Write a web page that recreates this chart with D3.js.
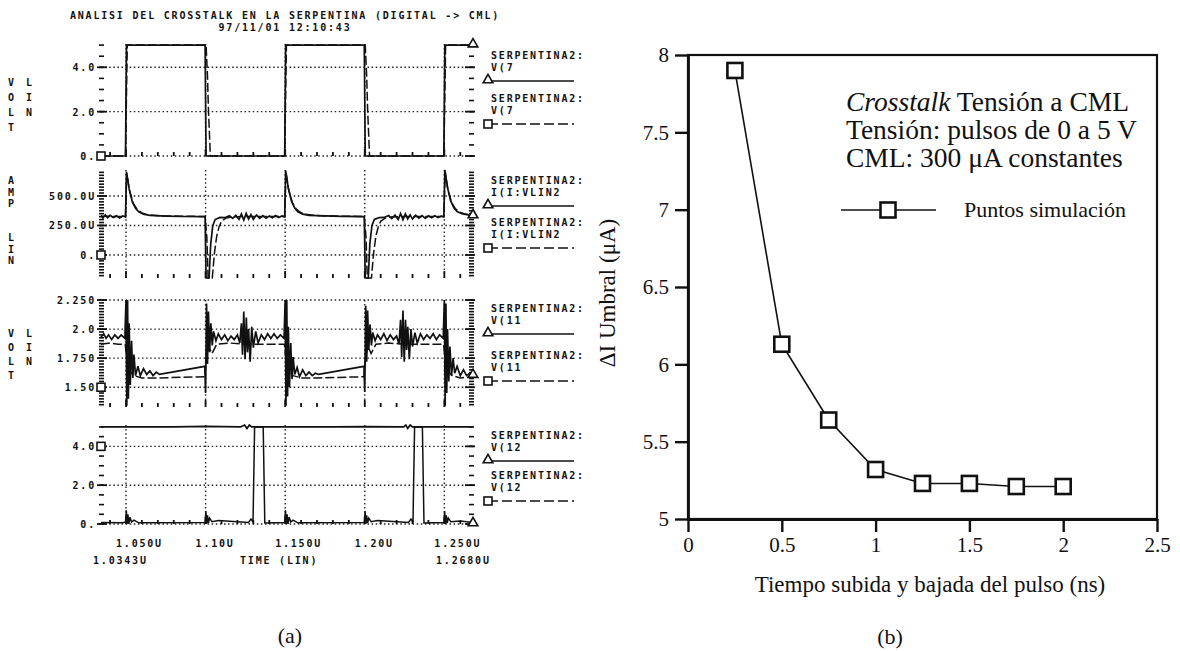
<!DOCTYPE html>
<html>
<head>
<meta charset="utf-8">
<script src="https://cdn.jsdelivr.net/npm/d3@7"></script>
<style>
  body { margin: 0; background: #fff; }
  .mono { font-family: "DejaVu Sans Mono", monospace; font-weight: bold; font-size: 10px; letter-spacing: 1.8px; fill: #111; }
  .serif { font-family: "Liberation Serif", "Times New Roman", serif; fill: #111; }
</style>
</head>
<body>
<svg id="chart" width="1180" height="651"></svg>
<script>
// ---- (a) PSpice traces, time in us ----
const timeGrid = [1.05, 1.10, 1.15, 1.20, 1.25];
const timeLabels = ['1.050U', '1.10U', '1.150U', '1.20U', '1.250U'];

// V(7)
const v7Solid = [[1.0343,0],[1.0497,0],[1.0503,5],[1.0997,5],[1.1003,0],[1.1497,0],[1.1503,5],[1.1997,5],[1.2003,0],[1.2497,0],[1.2503,5],[1.268,5]];
const v7Dash = [[1.0343,0],[1.0497,0],[1.0508,5],[1.1003,5],[1.1012,3.6],[1.1018,2.1],[1.1030,0],[1.1497,0],[1.1508,5],[1.2003,5],[1.2012,3.6],[1.2018,2.1],[1.2030,0],[1.2497,0],[1.2508,5],[1.268,5]];

// I(I:VLIN2), uA
const iSolid = [[1.0343,335],[1.0355,312],[1.037,340],[1.0385,316],[1.040,336],[1.042,318],[1.044,332],[1.046,314],[1.048,330],[1.0497,322],
  [1.0503,705],[1.052,560],[1.054,450],[1.056,395],[1.058,365],[1.061,345],[1.065,335],[1.075,330],[1.085,326],[1.0997,325],
  [1.1003,-250],[1.1022,-250],[1.1032,90],[1.1045,245],[1.106,300],[1.109,318],[1.112,316],[1.115,332],[1.117,310],[1.119,336],[1.121,302],[1.1225,348],[1.124,296],[1.1255,352],[1.127,304],[1.1285,342],[1.130,302],[1.132,338],[1.134,310],[1.136,333],[1.138,312],[1.140,330],[1.142,315],[1.144,334],[1.146,317],[1.148,331],[1.1497,323],
  [1.1503,715],[1.152,565],[1.154,455],[1.156,398],[1.158,366],[1.161,346],[1.165,336],[1.175,331],[1.185,327],[1.1997,325],
  [1.2003,-250],[1.2022,-250],[1.2032,95],[1.2045,248],[1.206,302],[1.209,316],[1.212,318],[1.215,334],[1.217,308],[1.219,338],[1.221,300],[1.2225,350],[1.224,298],[1.2255,348],[1.227,306],[1.2285,340],[1.230,304],[1.232,336],[1.234,312],[1.236,334],[1.238,310],[1.240,332],[1.242,316],[1.244,333],[1.246,318],[1.248,330],[1.2497,324],
  [1.2503,720],[1.252,570],[1.254,458],[1.256,400],[1.258,368],[1.261,350],[1.265,340],[1.268,336]];
const iDash = [[1.0343,328],[1.0497,326],[1.0505,690],[1.0522,545],[1.0545,440],[1.057,385],[1.060,356],[1.064,340],[1.072,331],[1.0997,326],
  [1.1008,150],[1.1016,-250],[1.1042,-250],[1.1056,20],[1.107,160],[1.1085,240],[1.110,285],[1.1125,310],[1.116,322],[1.125,326],[1.1497,325],
  [1.1505,700],[1.1522,550],[1.1545,444],[1.157,388],[1.160,358],[1.164,342],[1.172,332],[1.1997,326],
  [1.2008,150],[1.2016,-250],[1.2042,-250],[1.2056,20],[1.207,160],[1.2085,240],[1.210,285],[1.2125,310],[1.216,322],[1.225,326],[1.2497,325],
  [1.2505,705],[1.2522,555],[1.2545,446],[1.257,390],[1.260,360],[1.264,344],[1.268,338]];

// V(11)
const v11Solid = [[1.0343,1.93],[1.036,1.96],[1.0375,1.92],[1.039,1.95],[1.041,1.91],[1.043,1.95],[1.045,1.92],[1.047,1.95],[1.0493,1.92],
  [1.0500,2.26],[1.0505,1.34],[1.0510,2.26],[1.0515,1.40],[1.0520,2.05],[1.0527,1.52],[1.0535,1.90],[1.0543,1.58],[1.0550,1.78],[1.0560,1.60],[1.0575,1.68],[1.0590,1.60],[1.0610,1.66],[1.0630,1.61],[1.0650,1.64],[1.0670,1.60],[1.0690,1.63],[1.0710,1.61],[1.0995,1.68],
  [1.1000,1.45],[1.1006,2.22],[1.1012,1.70],[1.1018,2.15],[1.1025,1.80],[1.1033,2.05],[1.1042,1.86],[1.1050,1.98],[1.1065,1.90],[1.1080,1.96],[1.1100,1.91],[1.1120,1.95],[1.1140,1.90],[1.1160,1.94],[1.1180,1.91],[1.1200,1.95],[1.1215,1.88],[1.1225,2.05],[1.1232,1.78],[1.1240,2.15],[1.1248,1.74],[1.1256,2.10],[1.1263,1.80],[1.1270,2.00],[1.1280,1.72],[1.1290,2.02],[1.1300,1.84],[1.1315,1.98],[1.1330,1.88],[1.1350,1.95],[1.1370,1.91],[1.1390,1.96],[1.1410,1.92],[1.1430,1.96],[1.1450,1.92],[1.1470,1.95],[1.1493,1.92],
  [1.1500,2.26],[1.1505,1.34],[1.1510,2.26],[1.1515,1.42],[1.1520,2.02],[1.1527,1.50],[1.1535,1.88],[1.1543,1.57],[1.1550,1.76],[1.1560,1.61],[1.1575,1.67],[1.1590,1.59],[1.1610,1.65],[1.1630,1.60],[1.1650,1.63],[1.1670,1.60],[1.1690,1.62],[1.1710,1.61],[1.1995,1.68],
  [1.2000,1.46],[1.2006,2.20],[1.2012,1.72],[1.2018,2.16],[1.2025,1.82],[1.2033,2.04],[1.2042,1.86],[1.2050,1.97],[1.2065,1.90],[1.2080,1.95],[1.2100,1.91],[1.2120,1.96],[1.2140,1.90],[1.2160,1.95],[1.2180,1.91],[1.2200,1.94],[1.2215,1.87],[1.2225,2.08],[1.2232,1.76],[1.2240,2.16],[1.2248,1.72],[1.2256,2.08],[1.2263,1.82],[1.2270,2.02],[1.2280,1.74],[1.2290,2.00],[1.2300,1.85],[1.2315,1.97],[1.2330,1.88],[1.2350,1.96],[1.2370,1.91],[1.2390,1.95],[1.2410,1.92],[1.2430,1.96],[1.2450,1.91],[1.2470,1.95],[1.2493,1.92],
  [1.2500,2.26],[1.2505,1.34],[1.2510,2.22],[1.2515,1.45],[1.2520,2.00],[1.2528,1.55],[1.2535,1.85],[1.2545,1.60],[1.2555,1.75],[1.2565,1.62],[1.2580,1.68],[1.2600,1.60],[1.2620,1.65],[1.2640,1.60],[1.2660,1.62],[1.2680,1.60]];
const v11Dash = [[1.0343,1.87],[1.040,1.88],[1.045,1.87],[1.0495,1.87],[1.0505,1.74],[1.052,1.64],[1.055,1.60],[1.060,1.58],[1.070,1.58],[1.0995,1.59],
  [1.1005,1.76],[1.102,1.85],[1.104,1.79],[1.107,1.87],[1.115,1.88],[1.125,1.87],[1.135,1.87],[1.1495,1.87],
  [1.1505,1.74],[1.152,1.64],[1.155,1.60],[1.160,1.58],[1.170,1.58],[1.1995,1.59],
  [1.2005,1.76],[1.202,1.85],[1.204,1.79],[1.207,1.87],[1.215,1.88],[1.225,1.87],[1.235,1.87],[1.2495,1.87],
  [1.2505,1.74],[1.252,1.64],[1.255,1.60],[1.260,1.58],[1.268,1.59]];

// V(12)
const v12Top = [[1.0343,5.0],[1.08,5.0],[1.1,5.03],[1.122,5.0],[1.1245,5.1],[1.126,4.92],[1.1275,5.1],[1.129,5.0],[1.18,5.0],[1.2,5.02],[1.2245,5.0],[1.2258,5.1],[1.227,4.92],[1.2285,5.1],[1.23,5.0],[1.268,5.0]];
const v12Bot = [[1.0343,0.08],[1.048,0.06],[1.0497,0.1],[1.0502,0.7],[1.0507,-0.1],[1.0512,0.5],[1.0518,0.0],[1.0525,0.35],[1.0535,0.1],[1.055,0.2],[1.058,0.06],[1.0997,0.08],
  [1.1002,0.65],[1.1007,-0.1],[1.1012,0.45],[1.1018,0.05],[1.1025,0.3],[1.104,0.12],[1.108,0.18],[1.127,0.08],[1.1285,0.25],[1.1298,0.1],[1.1308,5.0],[1.1362,5.0],[1.1372,0.05],[1.1497,0.08],
  [1.1502,0.7],[1.1507,-0.1],[1.1512,0.5],[1.1518,0.0],[1.1525,0.35],[1.1535,0.1],[1.155,0.2],[1.158,0.06],[1.1997,0.08],
  [1.2002,0.65],[1.2007,-0.1],[1.2012,0.45],[1.2018,0.05],[1.2025,0.3],[1.204,0.12],[1.208,0.18],[1.2275,0.08],[1.229,0.25],[1.2303,0.1],[1.2313,5.0],[1.2362,5.0],[1.2372,0.05],[1.2497,0.08],
  [1.2502,0.65],[1.2507,-0.1],[1.2512,0.45],[1.2518,0.05],[1.2525,0.3],[1.254,0.12],[1.26,0.16],[1.268,0.08]];

// left axis labels per panel
const p1Ticks = [4, 2, 0], p1Labels = ['4.0', '2.0', '0.'];
const p2Ticks = [500, 250, 0], p2Labels = ['500.0U', '250.0U', '0.'];
const p3Ticks = [2.25, 2.0, 1.75, 1.5], p3Labels = ['2.250', '2.0', '1.750', '1.50'];
const p4Ticks = [4, 2, 0], p4Labels = ['4.0', '2.0', '0.'];
const traceNames = ['V(7', 'I(I:VLIN2', 'V(11', 'V(12'];
const squareAt = [0, 0, 1.5, 4.0];   // trace 2 symbol on left edge
const triangleAt = [5, 330, 1.6, 0]; // trace 1 symbol on right edge

// ---- (b) crosstalk threshold ----
const riseTime = [0.25, 0.5, 0.75, 1, 1.25, 1.5, 1.75, 2];
const deltaI = [7.90, 6.13, 5.64, 5.32, 5.23, 5.23, 5.21, 5.21];
const xTicksB = [0, 0.5, 1, 1.5, 2, 2.5], xLabelsB = ['0', '0.5', '1', '1.5', '2', '2.5'];
const yTicksB = [5, 5.5, 6, 6.5, 7, 7.5, 8], yLabelsB = ['5', '5.5', '6', '6.5', '7', '7.5', '8'];

const svg = d3.select('#chart');
svg.append('rect').attr('width', 1180).attr('height', 651).attr('fill', '#fff');

// ========== left: PSpice plot ==========
const x = d3.scaleLinear().domain([1.0343, 1.268]).range([101, 473]);

const panels = [
  { y: d3.scaleLinear().domain([0, 5.05]).range([156, 44]).clamp(true), ticks: p1Ticks, labels: p1Labels, minor: d3.range(0, 5.01, 0.5), traces: [v7Solid, v7Dash], ylab: [['V','O','L','T'], ['L','I','N']], ly: 82, lstep: 15, leg: [55, 98] },
  { y: d3.scaleLinear().domain([-195, 720]).range([278, 170]).clamp(true), ticks: p2Ticks, labels: p2Labels, minor: d3.range(-175, 701, 25), traces: [iSolid, iDash], ylab: [['A','M','P'], []], ly: 180, lstep: 11.5, leg: [180, 222], ylab2: [['L','I','N'], 237] },
  { y: d3.scaleLinear().domain([1.33, 2.25]).range([407, 300]).clamp(true), ticks: p3Ticks, labels: p3Labels, minor: d3.range(1.35, 2.251, 0.025), traces: [v11Solid, v11Dash], ylab: [['V','O','L','T'], ['L','I','N']], ly: 333, lstep: 14, leg: [308, 355] },
  { y: d3.scaleLinear().domain([0, 5.1]).range([524, 425]).clamp(true), ticks: p4Ticks, labels: p4Labels, minor: d3.range(0, 5.01, 0.5), traces: [v12Top, v12Bot], ylab: [[], []], ly: 0, lstep: 0, leg: [435, 475] }
];

const dotted = '1.5,2.6';

panels.forEach((p, i) => {
  const g = svg.append('g');
  const [bot, top] = p.y.range();

  // dotted grid
  timeGrid.forEach(t => {
    g.append('line').attr('x1', x(t)).attr('x2', x(t)).attr('y1', top).attr('y2', bot)
      .attr('stroke', '#222').attr('stroke-width', 1.4).attr('stroke-dasharray', dotted);
  });
  p.ticks.forEach(v => {
    g.append('line').attr('x1', 101).attr('x2', 473).attr('y1', p.y(v)).attr('y2', p.y(v))
      .attr('stroke', '#222').attr('stroke-width', 1.4).attr('stroke-dasharray', dotted);
  });

  // tick columns left / right
  p.minor.forEach(v => {
    g.append('line').attr('x1', 99).attr('x2', 104).attr('y1', p.y(v)).attr('y2', p.y(v)).attr('stroke', '#111').attr('stroke-width', 1.6);
    g.append('line').attr('x1', 469).attr('x2', 474).attr('y1', p.y(v)).attr('y2', p.y(v)).attr('stroke', '#111').attr('stroke-width', 1.6);
  });
  p.ticks.forEach((v, k) => {
    g.append('line').attr('x1', 97).attr('x2', 107).attr('y1', p.y(v)).attr('y2', p.y(v)).attr('stroke', '#111').attr('stroke-width', 1.8);
    g.append('line').attr('x1', 465).attr('x2', 475).attr('y1', p.y(v)).attr('y2', p.y(v)).attr('stroke', '#111').attr('stroke-width', 1.8);
    g.append('text').attr('class', 'mono').attr('x', 96).attr('y', p.y(v) + 4)
      .attr('text-anchor', 'end').text(p.labels[k]);
  });

  // bottom ticks every 10 ns
  d3.range(1.04, 1.265, 0.01).forEach(t => {
    const major = timeGrid.some(g0 => Math.abs(g0 - t) < 1e-6);
    g.append('line').attr('x1', x(t)).attr('x2', x(t)).attr('y1', bot).attr('y2', bot - (major ? 7 : 4))
      .attr('stroke', '#111').attr('stroke-width', 1.8);
  });

  // traces
  const line = d3.line().x(d => x(d[0])).y(d => p.y(d[1]));
  g.append('path').datum(p.traces[0]).attr('d', line).attr('fill', 'none')
    .attr('stroke', '#111').attr('stroke-width', 1.7);
  g.append('path').datum(p.traces[1]).attr('d', line).attr('fill', 'none')
    .attr('stroke', '#111').attr('stroke-width', 1.5).attr('stroke-dasharray', i === 3 ? null : '9,3');

  // trace symbols
  g.append('rect').attr('x', 101 - 4).attr('y', p.y(squareAt[i]) - 4).attr('width', 8).attr('height', 8)
    .attr('fill', '#fff').attr('stroke', '#111').attr('stroke-width', 1.6);
  g.append('path').attr('d', d3.symbol(d3.symbolTriangle, 40)()).attr('transform', `translate(473,${p.y(triangleAt[i]) - 1})`)
    .attr('fill', '#fff').attr('stroke', '#111').attr('stroke-width', 1.6);

  // vertical unit letters
  p.ylab[0].forEach((c, k) => g.append('text').attr('class', 'mono').attr('x', 12).attr('y', p.ly + k * p.lstep + 4).attr('text-anchor', 'middle').text(c));
  p.ylab[1].forEach((c, k) => g.append('text').attr('class', 'mono').attr('x', 30).attr('y', p.ly + k * p.lstep + 4).attr('text-anchor', 'middle').text(c));
  if (p.ylab2) p.ylab2[0].forEach((c, k) => g.append('text').attr('class', 'mono').attr('x', 12).attr('y', p.ylab2[1] + k * 11.5 + 4).attr('text-anchor', 'middle').text(c));

  // legend on the right
  p.leg.forEach((ly, k) => {
    g.append('text').attr('class', 'mono').attr('x', 491).attr('y', ly + 4).text('SERPENTINA2:');
    g.append('text').attr('class', 'mono').attr('x', 491).attr('y', ly + 16).text(traceNames[i]);
    const yy = ly + 26;
    g.append('line').attr('x1', 488).attr('x2', 574).attr('y1', yy).attr('y2', yy)
      .attr('stroke', '#111').attr('stroke-width', 1.6).attr('stroke-dasharray', k === 0 ? null : '10,4');
    if (k === 0) {
      g.append('path').attr('d', d3.symbol(d3.symbolTriangle, 40)()).attr('transform', `translate(488,${yy - 1})`)
        .attr('fill', '#fff').attr('stroke', '#111').attr('stroke-width', 1.6);
    } else {
      g.append('rect').attr('x', 484).attr('y', yy - 4).attr('width', 8).attr('height', 8)
        .attr('fill', '#fff').attr('stroke', '#111').attr('stroke-width', 1.6);
    }
  });
});

// title + time axis labels
svg.append('text').attr('class', 'mono').attr('x', 285).attr('y', 19).attr('text-anchor', 'middle')
  .text('ANALISI DEL CROSSTALK EN LA SERPENTINA (DIGITAL -> CML)');
svg.append('text').attr('class', 'mono').attr('x', 285).attr('y', 31).attr('text-anchor', 'middle')
  .text('97/11/01 12:10:43');
timeGrid.forEach((t, k) => {
  svg.append('text').attr('class', 'mono').attr('x', x(t) - 10).attr('y', 547).text(timeLabels[k]);
});
svg.append('text').attr('class', 'mono').attr('x', x(1.0343) - 8).attr('y', 564).text('1.0343U');
svg.append('text').attr('class', 'mono').attr('x', 240).attr('y', 564).text('TIME (LIN)');
svg.append('text').attr('class', 'mono').attr('x', x(1.268) - 37).attr('y', 564).text('1.2680U');

svg.append('text').attr('class', 'serif').attr('font-size', 22).attr('x', 290).attr('y', 643)
  .attr('text-anchor', 'middle').text('(a)');

// ========== right: deltaI vs rise time ==========
const xb = d3.scaleLinear().domain([0, 2.5]).range([688, 1157]);
const yb = d3.scaleLinear().domain([5, 8]).range([519, 55]);
const gb = svg.append('g');

gb.append('rect').attr('x', 688).attr('y', 55).attr('width', 1157 - 688).attr('height', 519 - 55)
  .attr('fill', 'none').attr('stroke', '#111').attr('stroke-width', 2.2);

const axY = gb.append('g').attr('transform', 'translate(688,0)')
  .call(d3.axisLeft(yb).tickValues(yTicksB).tickSize(13).tickSizeOuter(0).tickPadding(6)
    .tickFormat((d, k) => yLabelsB[k]));
const axX = gb.append('g').attr('transform', 'translate(0,519)')
  .call(d3.axisBottom(xb).tickValues(xTicksB).tickSize(13).tickSizeOuter(0).tickPadding(5)
    .tickFormat((d, k) => xLabelsB[k]));
[axY, axX].forEach(a => {
  a.select('.domain').attr('stroke', '#111').attr('stroke-width', 2.8);
  a.selectAll('.tick line').attr('stroke', '#111').attr('stroke-width', 2.4);
  a.selectAll('.tick text').attr('class', 'serif').attr('font-size', 21).attr('fill', '#111');
});

gb.append('path').datum(riseTime.map((t, k) => [t, deltaI[k]]))
  .attr('d', d3.line().x(d => xb(d[0])).y(d => yb(d[1])))
  .attr('fill', 'none').attr('stroke', '#111').attr('stroke-width', 1.6);
gb.selectAll('rect.pt').data(riseTime).enter().append('rect').attr('class', 'pt')
  .attr('x', d => xb(d) - 7.5).attr('y', (d, k) => yb(deltaI[k]) - 7.5)
  .attr('width', 15).attr('height', 15)
  .attr('fill', '#fff').attr('stroke', '#111').attr('stroke-width', 2.6);

// annotation
const n1 = gb.append('text').attr('class', 'serif').attr('font-size', 27.5).attr('x', 846).attr('y', 111);
n1.append('tspan').attr('font-style', 'italic').text('Crosstalk');
n1.append('tspan').text(' Tensión a CML');
gb.append('text').attr('class', 'serif').attr('font-size', 27.5).attr('x', 846).attr('y', 139).text('Tensión: pulsos de 0 a 5 V');
gb.append('text').attr('class', 'serif').attr('font-size', 27.5).attr('x', 846).attr('y', 167).text('CML: 300 μA constantes');

// legend
gb.append('line').attr('x1', 841).attr('x2', 936).attr('y1', 210).attr('y2', 210).attr('stroke', '#111').attr('stroke-width', 1.6);
gb.append('rect').attr('x', 888 - 7.5).attr('y', 210 - 7.5).attr('width', 15).attr('height', 15)
  .attr('fill', '#fff').attr('stroke', '#111').attr('stroke-width', 2.6);
gb.append('text').attr('class', 'serif').attr('font-size', 22).attr('x', 964).attr('y', 217).text('Puntos  simulación');

// axis titles
gb.append('text').attr('class', 'serif').attr('font-size', 23)
  .attr('transform', 'translate(615,293) rotate(-90)').attr('text-anchor', 'middle').text('ΔI Umbral (μA)');
gb.append('text').attr('class', 'serif').attr('font-size', 23).attr('x', 930).attr('y', 592)
  .attr('text-anchor', 'middle').text('Tiempo subida y bajada del pulso (ns)');
gb.append('text').attr('class', 'serif').attr('font-size', 22).attr('x', 890).attr('y', 644)
  .attr('text-anchor', 'middle').text('(b)');
</script>
</body>
</html>
